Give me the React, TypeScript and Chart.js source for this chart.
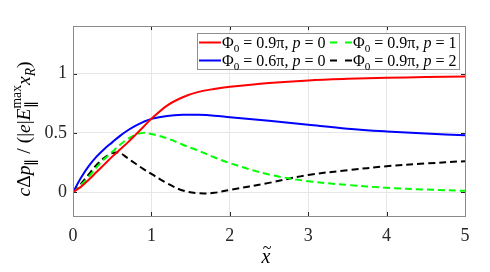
import React, { useEffect, useRef } from 'react';
import { Chart, registerables } from 'chart.js';

Chart.register(...registerables);

// ---- data ----
const xs = [0, 0.1, 0.2, 0.3, 0.4, 0.5, 0.6, 0.7, 0.8, 0.9, 1.0, 1.2, 1.4, 1.6, 1.8, 2.0, 2.5, 3.0, 3.5, 4.0, 4.5, 5.0];
const redY = [0, 0.045, 0.105, 0.17, 0.235, 0.3, 0.36, 0.42, 0.485, 0.552, 0.618, 0.73, 0.8, 0.845, 0.87, 0.888, 0.92, 0.942, 0.955, 0.964, 0.97, 0.975];
const blueY = [0, 0.12, 0.22, 0.3, 0.365, 0.42, 0.475, 0.522, 0.562, 0.593, 0.618, 0.643, 0.653, 0.652, 0.645, 0.632, 0.602, 0.568, 0.535, 0.512, 0.494, 0.48];
const greenY = [0, 0.06, 0.13, 0.21, 0.28, 0.34, 0.4, 0.45, 0.485, 0.5, 0.49, 0.455, 0.4, 0.35, 0.295, 0.245, 0.15, 0.093, 0.062, 0.037, 0.023, 0.012];
const blackY = [0, 0.07, 0.15, 0.23, 0.29, 0.33, 0.33, 0.285, 0.24, 0.195, 0.155, 0.075, 0.015, -0.008, -0.005, 0.02, 0.079, 0.146, 0.185, 0.219, 0.242, 0.262];

const phiValues = ['0.9π', '0.6π', '0.9π', '0.9π'];
const pValues = ['0', '0', '1', '2'];
const seriesColors = ['#ff0000', '#0000ff', '#00ff00', '#000000'];
const seriesDashed = [false, false, true, true];

const xTicks = [0, 1, 2, 3, 4, 5];
const yTicks = [0, 0.5, 1];
const xRange = [0, 5];
const yRange = [-0.2, 1.4];

const FONT = '"Liberation Serif", serif';

type Seg = { t: string; it?: boolean; pos?: 'sub' | 'sup'; sup?: string; sub?: string };

function fontStr(size: number, it?: boolean) {
  return `${it ? 'italic ' : ''}${size}px ${FONT}`;
}

function segWidth(ctx: CanvasRenderingContext2D, s: Seg, size: number) {
  if (s.sup !== undefined || s.sub !== undefined) {
    ctx.font = fontStr(size * 0.7);
    const w1 = ctx.measureText(s.sup || '').width;
    const w2 = ctx.measureText(s.sub || '').width;
    return Math.max(w1, w2);
  }
  const sz = s.pos ? size * 0.7 : size;
  ctx.font = fontStr(sz, s.it);
  return ctx.measureText(s.t).width;
}

function drawRich(ctx: CanvasRenderingContext2D, segs: Seg[], x: number, y: number, size: number, align: 'left' | 'center') {
  const total = segs.reduce((a, s) => a + segWidth(ctx, s, size), 0);
  let cx = align === 'center' ? x - total / 2 : x;
  ctx.textBaseline = 'alphabetic';
  ctx.textAlign = 'left';
  for (const s of segs) {
    const w = segWidth(ctx, s, size);
    if (s.sup !== undefined || s.sub !== undefined) {
      ctx.font = fontStr(size * 0.7);
      if (s.sup) ctx.fillText(s.sup, cx, y - 0.45 * size);
      if (s.sub) ctx.fillText(s.sub, cx, y + 0.28 * size);
    } else if (s.pos === 'sub') {
      ctx.font = fontStr(size * 0.7, s.it);
      ctx.fillText(s.t, cx, y + 0.25 * size);
    } else if (s.pos === 'sup') {
      ctx.font = fontStr(size * 0.7, s.it);
      ctx.fillText(s.t, cx, y - 0.4 * size);
    } else {
      ctx.font = fontStr(size, s.it);
      ctx.fillText(s.t, cx, y);
    }
    cx += w;
  }
  return total;
}

const yLabelSegs: Seg[] = [
  { t: 'c', it: true }, { t: 'Δ' }, { t: 'p', it: true }, { t: '∥', pos: 'sub' },
  { t: ' / (|' }, { t: 'e', it: true }, { t: '|' }, { t: 'E', it: true },
  { t: '', sup: 'max', sub: '∥' }, { t: 'x', it: true }, { t: 'R', it: true, pos: 'sub' }, { t: ')' },
];

function legendSegs(i: number): Seg[] {
  return [
    { t: 'Φ' }, { t: '0', pos: 'sub' }, { t: ' = ' + phiValues[i] + ', ' },
    { t: 'p', it: true }, { t: ' = ' + pValues[i] },
  ];
}

const decorPlugin = {
  id: 'decor',
  afterDatasetsDraw(chart: any) {
    const { ctx, chartArea: a, scales } = chart;
    ctx.save();
    ctx.strokeStyle = '#262626';
    ctx.lineWidth = 1;
    const L = 4;
    for (const v of xTicks) {
      const px = Math.round(scales.x.getPixelForValue(v)) + 0.5;
      ctx.beginPath();
      ctx.moveTo(px, a.bottom); ctx.lineTo(px, a.bottom - L);
      ctx.moveTo(px, a.top); ctx.lineTo(px, a.top + L);
      ctx.stroke();
    }
    for (const v of yTicks) {
      const py = Math.round(scales.y.getPixelForValue(v)) + 0.5;
      ctx.beginPath();
      ctx.moveTo(a.left, py); ctx.lineTo(a.left + L, py);
      ctx.moveTo(a.right, py); ctx.lineTo(a.right - L, py);
      ctx.stroke();
    }
    ctx.strokeStyle = '#8a8a8a';
    ctx.strokeRect(Math.round(a.left) + 0.5, Math.round(a.top) + 0.5, Math.round(a.right - a.left), Math.round(a.bottom - a.top));
    ctx.restore();
  },
  afterDraw(chart: any) {
    const { ctx } = chart;
    ctx.save();
    // legend box
    const bx = 197, by = 33, bw = 262, bh = 36;
    ctx.fillStyle = '#ffffff';
    ctx.fillRect(bx, by, bw, bh);
    ctx.strokeStyle = '#8f8f8f';
    ctx.lineWidth = 1;
    ctx.strokeRect(bx + 0.5, by + 0.5, bw, bh);
    const order = [0, 2, 1, 3];
    const colX = [199, 330];
    const rowY = [42.5, 60.5];
    order.forEach((si, k) => {
      const col = k % 2;
      const row = Math.floor(k / 2);
      const x0 = colX[col];
      const y0 = rowY[row];
      ctx.strokeStyle = seriesColors[si];
      ctx.lineWidth = 2;
      ctx.setLineDash(seriesDashed[si] ? [7, 8] : []);
      ctx.beginPath();
      ctx.moveTo(x0, y0); ctx.lineTo(x0 + 22, y0);
      ctx.stroke();
      ctx.setLineDash([]);
      ctx.fillStyle = '#000000';
      drawRich(ctx, legendSegs(si), x0 + 23, y0 + 5, 16, 'left');
    });
    // y-axis label
    ctx.save();
    ctx.translate(30, 129);
    ctx.rotate(-Math.PI / 2);
    ctx.fillStyle = '#000000';
    drawRich(ctx, yLabelSegs, 0, 0, 19.5, 'center');
    ctx.restore();
    // x-axis label
    ctx.fillStyle = '#000000';
    ctx.textAlign = 'center';
    ctx.textBaseline = 'alphabetic';
    ctx.font = fontStr(20, true);
    ctx.fillText('x', 266, 263);
    ctx.font = fontStr(16);
    ctx.fillText('~', 267, 253);
    ctx.restore();
  },
};

export default function App() {
  const ref = useRef<HTMLCanvasElement>(null);
  useEffect(() => {
    if (!ref.current) return;
    const ys = [redY, blueY, greenY, blackY];
    const chart = new Chart(ref.current, {
      type: 'line',
      data: {
        datasets: ys.map((arr, i) => ({
          label: 'Φ0 = ' + phiValues[i] + ', p = ' + pValues[i],
          data: xs.map((x, j) => ({ x, y: arr[j] })),
          borderColor: seriesColors[i],
          backgroundColor: seriesColors[i],
          borderWidth: 2,
          borderDash: seriesDashed[i] ? [7, 4] : [],
          pointRadius: 0,
          fill: false,
          tension: 0.35,
        })),
      },
      options: {
        responsive: false,
        animation: false,
        events: [],
        layout: { padding: { top: 26, right: 25, left: 0, bottom: 0 } },
        plugins: { legend: { display: false }, tooltip: { enabled: false } },
        scales: {
          x: {
            type: 'linear',
            min: xRange[0],
            max: xRange[1],
            afterBuildTicks: (s: any) => { s.ticks = xTicks.map((v) => ({ value: v })); },
            afterFit: (s: any) => { s.height = 56; },
            grid: { color: '#e6e6e6', drawTicks: false },
            border: { display: false },
            ticks: {
              color: '#262626',
              font: { family: FONT, size: 18 },
              padding: 9,
              maxRotation: 0,
              callback: (v: any) => String(v),
            },
          },
          y: {
            type: 'linear',
            min: yRange[0],
            max: yRange[1],
            afterBuildTicks: (s: any) => { s.ticks = yTicks.map((v) => ({ value: v })); },
            afterFit: (s: any) => { s.width = 73; },
            grid: { color: '#e6e6e6', drawTicks: false },
            border: { display: false },
            ticks: {
              color: '#262626',
              font: { family: FONT, size: 18 },
              padding: 6,
              callback: (v: any) => String(v),
            },
          },
        },
      },
      plugins: [decorPlugin],
    });
    return () => chart.destroy();
  }, []);
  return (
    <div style={{ position: 'absolute', left: 0, top: 0, width: 490, height: 272, background: '#fff' }}>
      <canvas ref={ref} width={490} height={272} style={{ width: 490, height: 272, display: 'block' }} />
    </div>
  );
}
